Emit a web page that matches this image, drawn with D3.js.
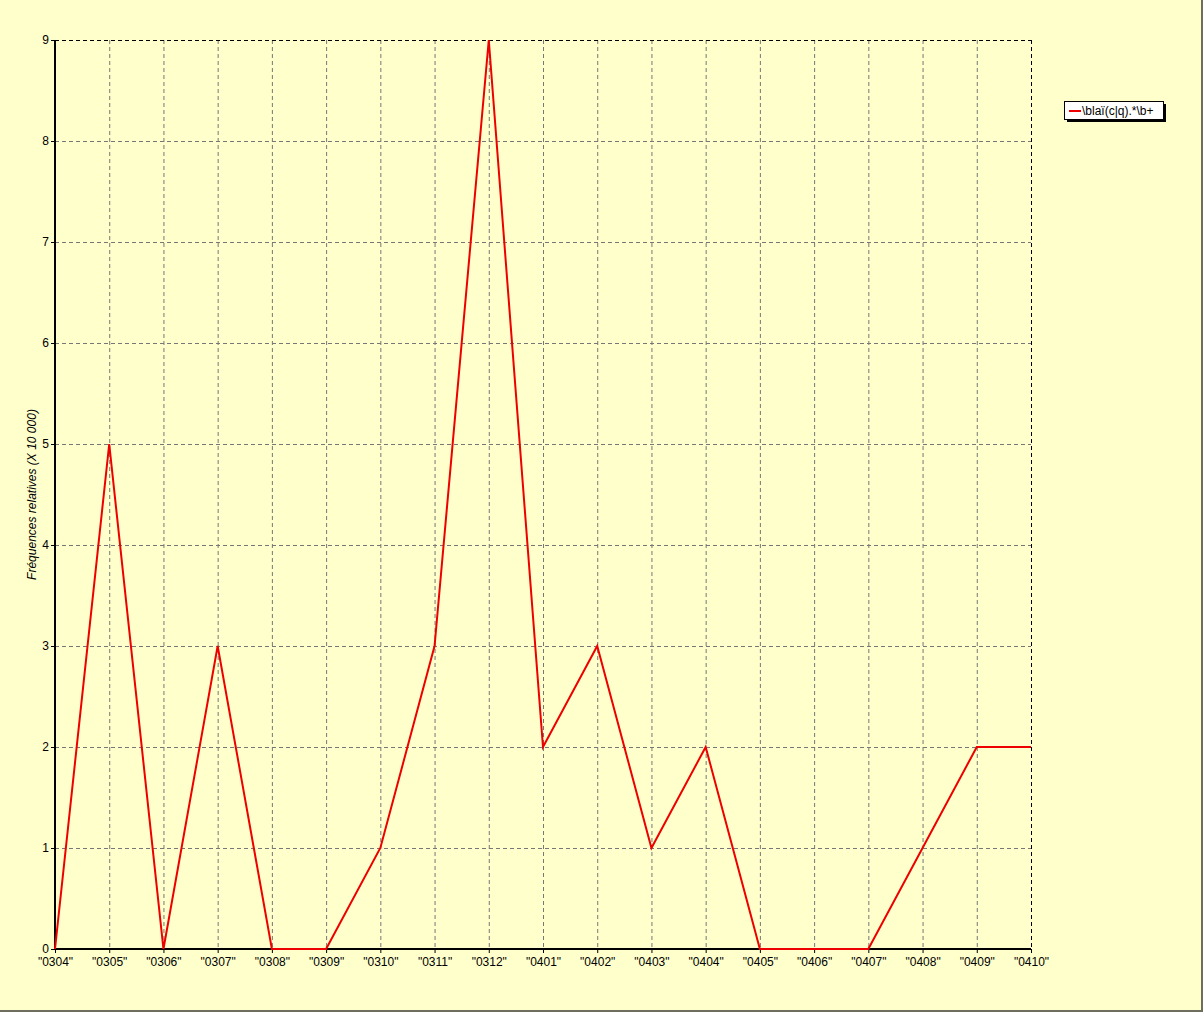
<!DOCTYPE html>
<html><head><meta charset="utf-8">
<script src="https://cdn.jsdelivr.net/npm/d3@7/dist/d3.min.js"></script>
<style>body{margin:0;background:#FFFFCC;}svg{display:block;}</style>
</head><body>
<script>
const categories = ["0304","0305","0306","0307","0308","0309","0310","0311","0312","0401","0402","0403","0404","0405","0406","0407","0408","0409","0410"];
const values = [0,5,0,3,0,0,1,3,9,2,3,1,2,0,0,0,1,2,2];
const yTicks = [0,1,2,3,4,5,6,7,8,9];
const seriesName = "\\blaï(c|q).*\\b+";
const yLabel = "Fréquences relatives (X 10 000)";

const W = 1203, H = 1012;
const m = {l:55, r:1031, t:40, b:949};
const svg = d3.select("body").append("svg").attr("width",W).attr("height",H);
svg.append("rect").attr("width",W).attr("height",H).attr("fill","#FFFFCC");
// window border
svg.append("line").attr("x1",W-1).attr("x2",W-1).attr("y1",0).attr("y2",H).attr("stroke","#6e6e5e").attr("stroke-width",2);
svg.append("line").attr("x1",0).attr("x2",W).attr("y1",H-1).attr("y2",H-1).attr("stroke","#6e6e5e").attr("stroke-width",2);

const x = d3.scalePoint().domain(categories).range([m.l,m.r]);
const y = d3.scaleLinear().domain([0,9]).range([m.b,m.t]);
const font = "'Liberation Sans', Arial, sans-serif";

// grid
const g = svg.append("g");
g.selectAll(".vg").data(categories.slice(1)).join("line")
  .attr("x1",d=>x(d)+0.5).attr("x2",d=>x(d)+0.5).attr("y1",m.t).attr("y2",m.b)
  .attr("stroke",d=>d===categories[categories.length-1]?"#000":"#777").attr("stroke-dasharray","4,3").attr("stroke-width",1);
g.selectAll(".hg").data(yTicks.slice(1)).join("line")
  .attr("x1",m.l).attr("x2",m.r).attr("y1",d=>y(d)+0.5).attr("y2",d=>y(d)+0.5)
  .attr("stroke",d=>d===9?"#000":"#777").attr("stroke-dasharray","4,3").attr("stroke-width",1);

// axes
const yAxis = d3.axisLeft(y).tickValues(yTicks).tickSize(4).tickPadding(2).tickFormat(d3.format("d"));
const ya = svg.append("g").attr("transform",`translate(${m.l},0)`).call(yAxis);
ya.select(".domain").remove();
ya.selectAll("text").attr("font-family",font).attr("font-size",12).attr("fill","#000");
svg.append("line").attr("x1",m.l).attr("x2",m.l).attr("y1",m.t).attr("y2",m.b+1).attr("stroke","#000").attr("stroke-width",2);

const xAxis = d3.axisBottom(x).tickSize(4).tickPadding(4).tickFormat(d=>`"${d}"`);
const xa = svg.append("g").attr("transform",`translate(0,${m.b})`).call(xAxis);
xa.select(".domain").remove();
xa.selectAll("text").attr("font-family",font).attr("font-size",12).attr("fill","#000");
svg.append("line").attr("x1",m.l-1).attr("x2",m.r).attr("y1",m.b).attr("y2",m.b).attr("stroke","#000").attr("stroke-width",2);

// y label
svg.append("text").attr("transform",`translate(36,${(m.t+m.b)/2}) rotate(-90)`)
  .attr("text-anchor","middle").attr("font-family",font).attr("font-size",12).attr("font-style","italic")
  .text(yLabel);

// line
const line = d3.line().x((d,i)=>x(categories[i])).y(d=>y(d));
svg.append("path").datum(values).attr("d",line).attr("fill","none").attr("stroke","#EE0000").attr("stroke-width",2);

// legend
const lg = svg.append("g").attr("transform","translate(1064,101)");
lg.append("rect").attr("x",3).attr("y",3).attr("width",99).attr("height",18).attr("fill","#000");
lg.append("rect").attr("x",0.5).attr("y",0.5).attr("width",99).attr("height",18).attr("fill","#fff").attr("stroke","#000");
lg.append("line").attr("x1",5).attr("x2",17).attr("y1",10).attr("y2",10).attr("stroke","#EE0000").attr("stroke-width",2);
lg.append("text").attr("x",18).attr("y",14).attr("font-family",font).attr("font-size",12).text(seriesName);
</script>
</body></html>
